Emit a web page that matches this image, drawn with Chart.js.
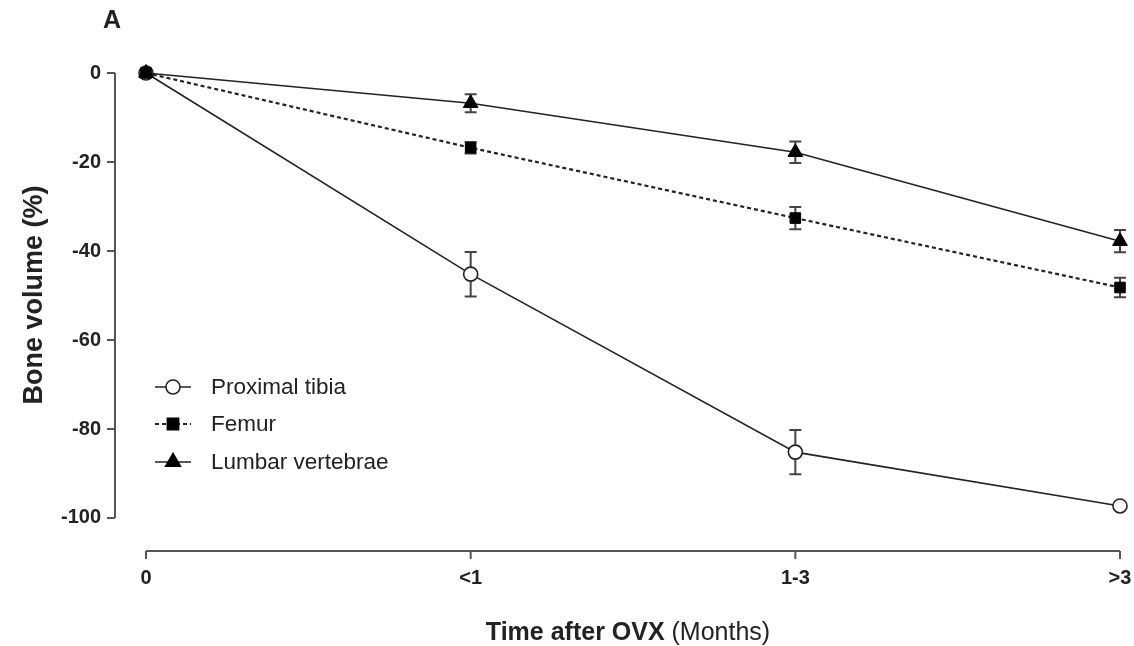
<!DOCTYPE html>
<html>
<head>
<meta charset="utf-8">
<script src="https://cdn.jsdelivr.net/npm/chart.js@4"></script>
<style>
  html, body { margin: 0; padding: 0; background: #fff; }
  #wrap { width: 1134px; height: 646px; position: relative; }
</style>
</head>
<body>
<div id="wrap"><canvas id="chart"></canvas></div>
<script>
const categories = ['0', '<1', '1-3', '>3'];
const seriesNames = ['Proximal tibia', 'Femur', 'Lumbar vertebrae'];
const tibiaMean = [0, -45.2, -85.2, -97.3];
const tibiaErr = [0, 5, 5, 0];
const femurMean = [0, -16.8, -32.6, -48.2];
const femurErr = [0, 1.3, 2.5, 2.2];
const lumbarMean = [0, -6.8, -17.8, -37.8];
const lumbarErr = [0, 2, 2.4, 2.5];
const yTicks = [0, -20, -40, -60, -80, -100];

const INK = '#222';
const AXIS = '#555';

function toPoints(means) {
  return means.map((v, i) => ({ x: i, y: v }));
}

// error bars, drawn under the markers
const errorBars = {
  id: 'errorBars',
  beforeDatasetsDraw(chart) {
    const ctx = chart.ctx;
    const xs = chart.scales.x, ys = chart.scales.y;
    ctx.save();
    ctx.strokeStyle = '#444';
    ctx.lineWidth = 2;
    chart.data.datasets.forEach(ds => {
      ds.errors.forEach((e, i) => {
        if (!e) return;
        const x = xs.getPixelForValue(i);
        const top = ys.getPixelForValue(ds.data[i].y + e);
        const bot = ys.getPixelForValue(ds.data[i].y - e);
        ctx.beginPath();
        ctx.moveTo(x, top); ctx.lineTo(x, bot);
        ctx.moveTo(x - 6, top); ctx.lineTo(x + 6, top);
        ctx.moveTo(x - 6, bot); ctx.lineTo(x + 6, bot);
        ctx.stroke();
      });
    });
    ctx.restore();
  }
};

// prism-style offset axes, panel letter, x title and legend
const decorations = {
  id: 'decorations',
  afterDraw(chart) {
    const ctx = chart.ctx;
    const xs = chart.scales.x, ys = chart.scales.y;
    ctx.save();
    ctx.strokeStyle = AXIS;
    ctx.lineWidth = 2;

    // y axis
    const yx = chart.chartArea.left;
    ctx.beginPath();
    ctx.moveTo(yx, ys.getPixelForValue(yTicks[0]));
    ctx.lineTo(yx, ys.getPixelForValue(yTicks[yTicks.length - 1]));
    yTicks.forEach(v => {
      const y = ys.getPixelForValue(v);
      ctx.moveTo(yx - 8, y); ctx.lineTo(yx, y);
    });
    ctx.stroke();

    // x axis
    const xb = chart.chartArea.bottom;
    ctx.beginPath();
    ctx.moveTo(xs.getPixelForValue(0), xb);
    ctx.lineTo(xs.getPixelForValue(categories.length - 1), xb);
    categories.forEach((c, i) => {
      const x = xs.getPixelForValue(i);
      ctx.moveTo(x, xb); ctx.lineTo(x, xb + 8);
    });
    ctx.stroke();

    // panel letter
    ctx.fillStyle = INK;
    ctx.font = 'bold 25px "Liberation Sans", Arial, sans-serif';
    ctx.textAlign = 'left';
    ctx.textBaseline = 'alphabetic';
    ctx.fillText('A', 103, 28);

    // x title: bold part + regular part
    const boldPart = 'Time after OVX';
    const normPart = ' (Months)';
    ctx.font = 'bold 25px "Liberation Sans", Arial, sans-serif';
    const w1 = ctx.measureText(boldPart).width;
    ctx.font = '25px "Liberation Sans", Arial, sans-serif';
    const w2 = ctx.measureText(normPart).width;
    const x0 = 628 - (w1 + w2) / 2;
    ctx.font = 'bold 25px "Liberation Sans", Arial, sans-serif';
    ctx.fillText(boldPart, x0, 640);
    ctx.font = '25px "Liberation Sans", Arial, sans-serif';
    ctx.fillText(normPart, x0 + w1, 640);

    // legend
    const rows = [387, 424, 462];
    ctx.font = '22.5px "Liberation Sans", Arial, sans-serif';
    ctx.textBaseline = 'middle';
    chart.data.datasets.forEach((ds, i) => {
      const y = rows[i];
      ctx.strokeStyle = INK;
      ctx.lineWidth = ds.borderWidth;
      ctx.setLineDash(ds.borderDash || []);
      ctx.beginPath();
      ctx.moveTo(155, y); ctx.lineTo(191, y);
      ctx.stroke();
      ctx.setLineDash([]);
      ctx.fillStyle = ds.pointBackgroundColor;
      ctx.strokeStyle = ds.pointBorderColor;
      Chart.helpers.drawPoint(ctx, {
        pointStyle: ds.pointStyle, radius: ds.pointRadius,
        rotation: 0, borderWidth: ds.pointBorderWidth
      }, 173, y);
      ctx.fillStyle = INK;
      ctx.fillText(ds.label, 211, y + 1);
    });
    ctx.restore();
  }
};

new Chart(document.getElementById('chart'), {
  type: 'scatter',
  data: {
    datasets: [
      {
        label: seriesNames[0], data: toPoints(tibiaMean), errors: tibiaErr, order: 3,
        showLine: true, borderColor: INK, borderWidth: 1.6,
        pointStyle: 'circle', pointRadius: 7, pointBorderWidth: 1.6,
        pointBackgroundColor: '#fff', pointBorderColor: INK
      },
      {
        label: seriesNames[1], data: toPoints(femurMean), errors: femurErr, order: 2,
        showLine: true, borderColor: INK, borderWidth: 2.2, borderDash: [4, 3],
        pointStyle: 'rect', pointRadius: 7.5, pointBorderWidth: 1,
        pointBackgroundColor: '#000', pointBorderColor: '#000'
      },
      {
        label: seriesNames[2], data: toPoints(lumbarMean), errors: lumbarErr, order: 1,
        showLine: true, borderColor: INK, borderWidth: 1.6,
        pointStyle: 'triangle', pointRadius: 8.5, pointBorderWidth: 1,
        pointBackgroundColor: '#000', pointBorderColor: '#000'
      }
    ]
  },
  options: {
    responsive: true,
    maintainAspectRatio: false,
    animation: false,
    layout: { padding: { top: 39, right: 14, bottom: 0, left: 0 } },
    clip: false,
    plugins: {
      legend: { display: false },
      tooltip: { enabled: false }
    },
    scales: {
      x: {
        type: 'linear',
        min: -0.0955, max: 3,
        grid: { display: false },
        border: { display: false },
        afterBuildTicks: s => { s.ticks = categories.map((c, i) => ({ value: i })); },
        afterFit: s => { s.height = 95; s.paddingLeft = 0; s.paddingRight = 0; },
        ticks: {
          padding: 7,
          color: INK,
          font: { family: '"Liberation Sans", Arial, sans-serif', size: 20, weight: 'bold' },
          callback: v => categories[v]
        }
      },
      y: {
        min: -107.42, max: 7.64,
        grid: { display: false },
        border: { display: false },
        afterBuildTicks: s => { s.ticks = yTicks.map(v => ({ value: v })); },
        afterFit: s => { s.width = 115; },
        ticks: {
          padding: 6,
          color: INK,
          font: { family: '"Liberation Sans", Arial, sans-serif', size: 20, weight: 'bold' }
        },
        title: {
          display: true,
          text: 'Bone volume (%)',
          color: INK,
          padding: { top: 18, bottom: 0 },
          font: { family: '"Liberation Sans", Arial, sans-serif', size: 27, weight: 'bold' }
        }
      }
    }
  },
  plugins: [errorBars, decorations]
});
</script>
</body>
</html>
